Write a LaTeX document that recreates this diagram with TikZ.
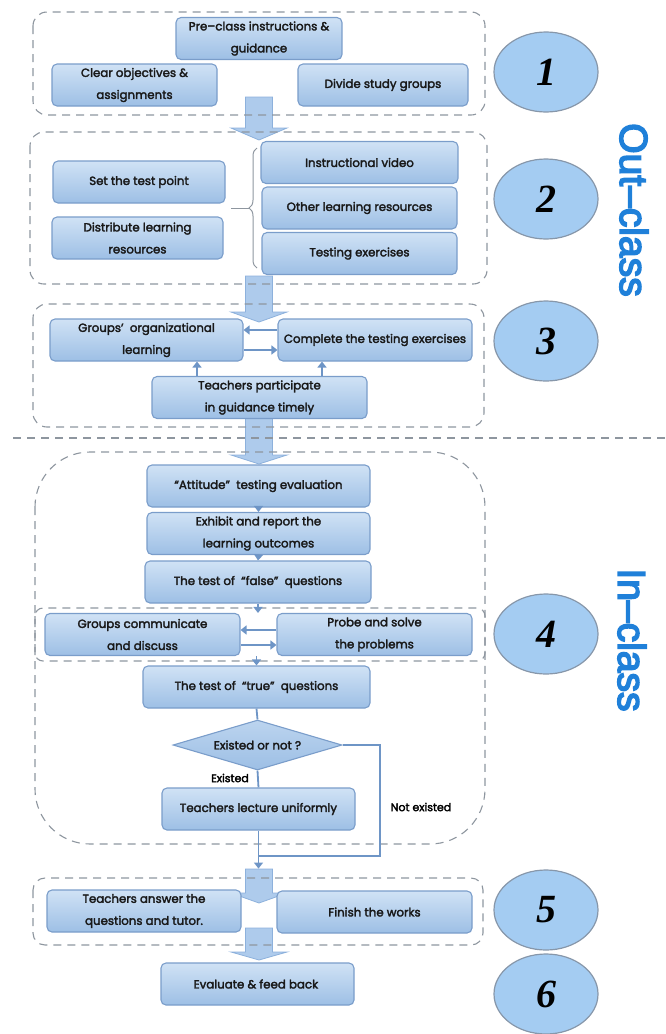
\documentclass[tikz,border=0pt]{standalone}
\usepackage{fontspec}
\setmainfont{Poppins}[FakeBold=2.5]
\newfontfamily\numfont{Liberation Serif}
\newfontfamily\sidefont{Liberation Sans}[FakeBold=4]
\usetikzlibrary{arrows.meta,shapes.geometric,decorations.pathreplacing}

\definecolor{boxtop}{HTML}{D0E2F5}
\definecolor{boxbottom}{HTML}{9DBFE5}
\definecolor{boxline}{HTML}{7A9DCA}
\definecolor{flowblue}{HTML}{6E95C6}
\definecolor{framegray}{HTML}{8E969F}
\definecolor{circfill}{HTML}{A4CCF2}
\definecolor{circline}{HTML}{8797AA}
\definecolor{sideblue}{HTML}{1F80D9}
\definecolor{bigfill}{HTML}{AECBEC}
\definecolor{bigline}{HTML}{8DB1DC}

\tikzset{
  stepbox/.style={rectangle, rounded corners=5pt, draw=boxline, line width=1.1pt,
    top color=boxtop, bottom color=boxbottom, minimum height=42pt, inner sep=1pt,
    align=center, text=black!90, font=\fontsize{11.8}{22}\selectfont},
  decision/.style={diamond, aspect=3.4, inner sep=0pt, draw=boxline, line width=1.1pt,
    top color=boxtop!60!boxbottom, bottom color=boxbottom, text=black!90,
    font=\fontsize{11.8}{13}\selectfont},
  frame/.style={draw=framegray, line width=1.1pt, dash pattern=on 8pt off 6pt},
  flow/.style={draw=flowblue, line width=1.8pt, -{Triangle[length=6pt,width=9pt]}},
  flowline/.style={draw=flowblue, line width=1.8pt},
  bigarrow/.style={fill=bigfill, draw=bigline, line width=0.8pt},
  numcircle/.style={ellipse, minimum width=104pt, minimum height=80pt, fill=circfill,
    draw=circline, line width=1.2pt, font=\numfont\bfseries\itshape\fontsize{40}{40}\selectfont},
  sidetext/.style={text=sideblue, font=\sidefont\fontsize{39}{39}\selectfont},
  smalllabel/.style={text=black, font=\fontsize{11}{12}\selectfont},
}

\newcommand*{\StepBoxes}[1]{% #1 = list of name/x/y/width/text
  \foreach \name/\x/\y/\w/\txt in {#1} {
    \node [stepbox, minimum width=\w pt] (\name) at (\x,\y) {\txt};
  }%
}
\newcommand*{\BlockArrow}[3]{% #1 = top, #2 = head, #3 = tip
  \draw [bigarrow] (245.5,#1) -- (272.5,#1) -- (272.5,#2) -- (287,#2)
    -- (259,#3) -- (231,#2) -- (245.5,#2) -- cycle;
}

\begin{document}
\begin{tikzpicture}[x=1pt,y=-1pt]
  \useasboundingbox (0,0) rectangle (665,1034);

  % wide arrows between the stages
  \BlockArrow{97}{128}{140}
  \BlockArrow{276}{312}{322}
  \BlockArrow{418}{455}{464}
  \BlockArrow{869}{893}{903}
  \BlockArrow{928}{952}{960}

  % dashed frames
  \draw [frame, rounded corners=14pt] (33,12) rectangle (485,115);
  \draw [frame, rounded corners=14pt] (30,132) rectangle (487,284);
  \draw [frame, rounded corners=14pt] (33,304) rectangle (484,427);
  \draw [frame, rounded corners=55pt] (35,452) rectangle (485,844);
  \draw [frame, rounded corners=8pt] (35,608) rectangle (485,661);
  \draw [frame, rounded corners=12pt] (33,878) rectangle (483,945);
  \draw [frame] (13,438) -- (665,438);

  \begin{scope}[local bounding box=steps]
    \StepBoxes{
      pre/259/38.5/166/Pre--class instructions \&\\guidance,
      clear/134.5/85/165/Clear objectives \&\\assignments,
      divide/383/85/170/Divide study groups,
      settest/139/182/172/Set the test point,
      distrib/137.5/238/171/Distribute learning\\resources,
      video/359.5/162.5/197/Instructional video,
      other/359.5/208/195/Other learning resources,
      testex/359.5/253.5/195/Testing exercises,
      grouporg/146.5/340/193/Groups’\ \ organizational\\learning,
      complete/375/340/194/Complete the testing exercises,
      teachpart/259.5/397.5/215/Teachers participate\\in guidance timely,
      attitude/258.5/486/223/“Attitude”\ \ testing evaluation,
      exhibit/258.5/533.5/223/Exhibit and report the\\learning outcomes,
      falseq/258/582/226/The test of\ \ “false”\ \ questions,
      groupcomm/142.5/634.5/195/Groups communicate\\and discuss,
      probe/374.5/634.5/195/Probe and solve\\the problems,
      trueq/256.5/687/227/The test of\ \ “true”\ \ questions,
      lecture/258.5/809/193/Teachers lecture uniformly,
      answer/144/911/194/Teachers answer the\\questions and tutor.,
      finish/374.5/912/195/Finish the works,
      evaluate/257.5/984/193/Evaluate \& feed back
    }
    \node [decision, minimum width=169pt, minimum height=50pt] (decide) at (257.5,745) {Existed or not ?};
  \end{scope}

  % brace in front of the resources
  \draw [decorate, decoration={brace, amplitude=8pt}, draw=framegray, line width=1pt]
    (257,268) -- (257,148);
  \draw [draw=framegray, line width=1pt] (249,208) -- (231,208);

  % flows
  \draw [flow] ([yshift=10pt]complete.west) -- ([yshift=10pt]grouporg.east);
  \draw [flow] ([yshift=-10pt]grouporg.east) -- ([yshift=-10pt]complete.west);
  \draw [flow] ([xshift=-62.5pt]teachpart.north) -- ([xshift=-62.5pt]teachpart.north |- grouporg.south);
  \draw [flow] ([xshift=62.5pt]teachpart.north) -- ([xshift=62.5pt]teachpart.north |- complete.south);
  \draw [flow] (attitude.south) -- (exhibit.north);
  \draw [flow] (exhibit.south) -- (falseq.north);
  \draw [flow] (falseq.south) -- (falseq.south |- groupcomm.north);
  \draw [flow] ([yshift=4.5pt]probe.west) -- ([yshift=4.5pt]groupcomm.east);
  \draw [flow] ([yshift=-10.5pt]groupcomm.east) -- ([yshift=-10.5pt]probe.west);
  \draw [flow] (trueq.north |- groupcomm.south) -- (trueq.north);
  \draw [flowline] (trueq.south) -- (decide.north);
  \draw [flowline] (decide.south) -- (lecture.north);
  \coordinate (turn) at (380,856);
  \coordinate (into5) at ([yshift=-38pt]lecture.south);
  \draw [flowline] (decide.east) -| (turn) -- (turn -| lecture.south);
  \draw [flow] (lecture.south) -- (into5);
  \node [smalllabel] (existed) at (230,778) {Existed};
  \node [smalllabel] (notexisted) at (421,807) {Not existed};

  % stage numbers
  \foreach \n/\y in {1/72, 2/199, 3/341, 4/634, 5/910, 6/994} {
    \node [numcircle] (num\n) at (546,\y) {\n};
  }

  \node [sidetext, rotate=-90] (outclass) at (634,210) {Out–class};
  \node [sidetext, rotate=-90] (inclass) at (632,640) {In–class};
\end{tikzpicture}
\end{document}
